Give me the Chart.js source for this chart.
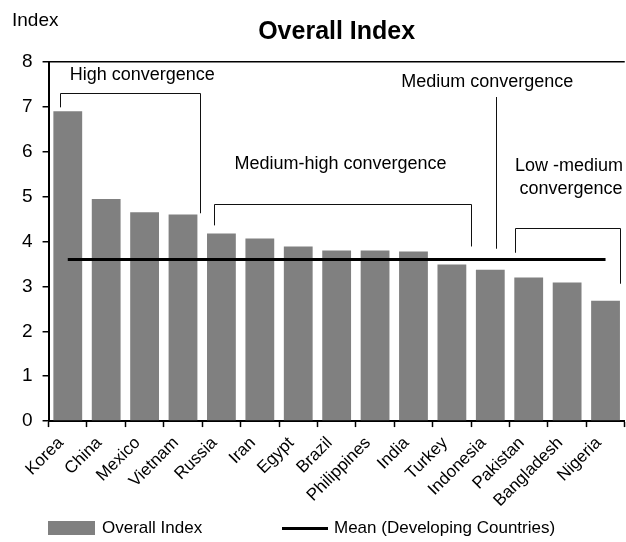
<!DOCTYPE html>
<html>
<head>
<meta charset="utf-8">
<title>Overall Index</title>
<script src="https://cdn.jsdelivr.net/npm/chart.js@4.4.1/dist/chart.umd.min.js"></script>
<style>
  body { margin: 0; background: #fff; }
  #quadro { position: relative; width: 626px; height: 542px; }
  .legenda { position: absolute; top: 518px; font: 17px "Liberation Sans", Arial, sans-serif; color: #000; display: flex; align-items: center; height: 20px; }
  .caixa { width: 47px; height: 14px; background: #808080; margin-right: 7px; }
  .linha { width: 46px; height: 3px; background: #000; margin-right: 6px; }
</style>
</head>
<body>
<div id="quadro">
  <canvas id="grafico" width="626" height="542"></canvas>
  <div class="legenda" style="left:48px"><span class="caixa"></span>Overall Index</div>
  <div class="legenda" style="left:282px"><span class="linha"></span>Mean (Developing Countries)</div>
</div>
<script>
const paises = ["Korea", "China", "Mexico", "Vietnam", "Russia", "Iran", "Egypt", "Brazil",
  "Philippines", "India", "Turkey", "Indonesia", "Pakistan", "Bangladesh", "Nigeria"];
const indiceGeral = [6.9, 4.95, 4.65, 4.6, 4.18, 4.07, 3.89, 3.8, 3.8, 3.78, 3.49, 3.37, 3.2, 3.09, 2.68];
const mediaPaises = [3.6, 3.6, 3.6, 3.6, 3.6, 3.6, 3.6, 3.6, 3.6, 3.6, 3.6, 3.6, 3.6, 3.6, 3.6];
const grupos = ["High convergence", "Medium-high convergence", "Medium convergence", "Low -medium", "convergence"];

const fonte = '"Liberation Sans", Arial, sans-serif';

// colchetes dos grupos, em unidades das escalas (indice da categoria, valor do indice)
const colchetes = [
  { de: -0.19, ate: 3.45, topo: 7.31, fimEsq: 6.99, fimDir: 4.63 },
  { de: 3.81, ate: 10.5, topo: 4.83, fimEsq: 4.36, fimDir: 3.89 },
  { de: 11.65, ate: 14.37, topo: 4.31, fimEsq: 3.75, fimDir: 3.06 },
];
const textosGrupos = [
  { x: 1.94, y: 7.71 },
  { x: 7.1, y: 5.72 },
  { x: 10.92, y: 7.55 },
  { x: 13.05, y: 5.68 },
  { x: 13.1, y: 5.18 },
];

const anotacoes = {
  id: "anotacoes",
  afterDatasetsDraw(chart) {
    const ctx = chart.ctx;
    const sx = chart.scales.x;
    const sy = chart.scales.y;

    ctx.save();
    ctx.strokeStyle = "#111";
    ctx.lineWidth = 1;
    colchetes.forEach((c) => {
      const x1 = Math.round(sx.getPixelForValue(c.de)) + 0.5;
      const x2 = Math.round(sx.getPixelForValue(c.ate)) + 0.5;
      const yt = Math.round(sy.getPixelForValue(c.topo)) + 0.5;
      ctx.beginPath();
      ctx.moveTo(x1, sy.getPixelForValue(c.fimEsq));
      ctx.lineTo(x1, yt);
      ctx.lineTo(x2, yt);
      ctx.lineTo(x2, sy.getPixelForValue(c.fimDir));
      ctx.stroke();
    });

    // linha unica do grupo "Medium convergence"
    const xm = Math.round(sx.getPixelForValue(11.15)) + 0.5;
    ctx.beginPath();
    ctx.moveTo(xm, sy.getPixelForValue(7.22));
    ctx.lineTo(xm, sy.getPixelForValue(3.84));
    ctx.stroke();

    ctx.fillStyle = "#000";
    ctx.font = "18px " + fonte;
    ctx.textAlign = "center";
    ctx.textBaseline = "middle";
    grupos.forEach((texto, i) => {
      const p = textosGrupos[i];
      ctx.fillText(texto, sx.getPixelForValue(p.x), sy.getPixelForValue(p.y));
    });

    ctx.textAlign = "left";
    ctx.font = "19px " + fonte;
    ctx.fillText("Index", 12, 21);
    ctx.restore();
  },
};

const grafico = document.getElementById("grafico").getContext("2d");

new Chart(grafico, {
  type: "bar",
  data: {
    labels: paises,
    datasets: [
      {
        type: "line",
        label: "Mean (Developing Countries)",
        data: mediaPaises,
        borderColor: "#000",
        borderWidth: 3,
        pointRadius: 0,
        fill: false,
        order: 0,
      },
      {
        label: "Overall Index",
        data: indiceGeral,
        backgroundColor: "#808080",
        borderWidth: 0,
        categoryPercentage: 1,
        barPercentage: 0.75,
        order: 1,
      },
    ],
  },
  options: {
    responsive: false,
    animation: false,
    layout: {
      padding: { left: 12, right: 0, top: 0, bottom: 25 },
    },
    plugins: {
      legend: { display: false },
      tooltip: { enabled: false },
      title: {
        display: true,
        text: "Overall Index",
        fullSize: false,
        color: "#000",
        font: { family: fonte, size: 25, weight: "bold" },
        padding: { top: 17, bottom: 15 },
      },
    },
    scales: {
      x: {
        offset: true,
        grid: {
          offset: true,
          drawOnChartArea: false,
          tickLength: 6,
          tickColor: "#000",
          tickWidth: 1.5,
        },
        border: { color: "#000", width: 2 },
        ticks: {
          autoSkip: false,
          minRotation: 45,
          maxRotation: 45,
          labelOffset: -7,
          color: "#000",
          padding: 6,
          font: { family: fonte, size: 17 },
        },
      },
      y: {
        min: 0,
        max: 8,
        ticks: {
          stepSize: 1,
          color: "#000",
          padding: 10,
          font: { family: fonte, size: 19 },
        },
        grid: {
          color: (c) => (c.tick && c.tick.value === 8 ? "#000" : "rgba(0,0,0,0)"),
          lineWidth: 1.5,
          tickLength: 6,
          tickColor: "#000",
        },
        border: { color: "#000", width: 2 },
      },
    },
  },
  plugins: [anotacoes],
});
</script>
</body>
</html>
